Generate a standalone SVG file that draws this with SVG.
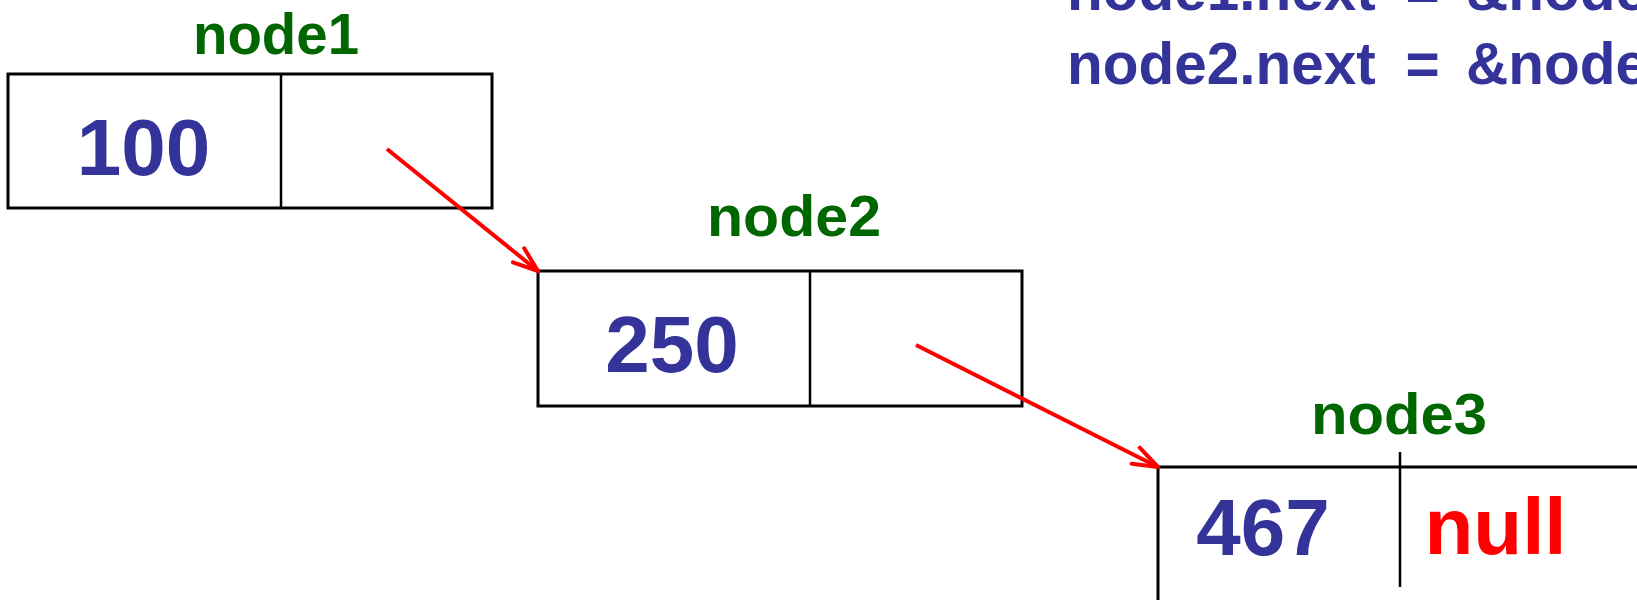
<svg xmlns="http://www.w3.org/2000/svg" width="1637" height="600" viewBox="0 0 1637 600">
<style>
.box{fill:#fff;stroke:#000;stroke-width:3}
.div{stroke:#000;stroke-width:2.5}
.lbl{font-family:"Liberation Sans",Arial,sans-serif;font-weight:bold;font-size:57px;fill:#006600}
.num{font-family:"Liberation Sans",Arial,sans-serif;font-weight:bold;font-size:80px;fill:#333399;text-anchor:middle}
.nul{font-family:"Liberation Sans",Arial,sans-serif;font-weight:bold;font-size:80px;fill:#ff0000;text-anchor:middle}
.code{font-family:"Liberation Sans",Arial,sans-serif;font-weight:bold;font-size:58.5px;fill:#333399}
.arr{stroke:#ff0000;stroke-width:4;fill:none;marker-end:url(#head)}
</style>
<defs>
<marker id="head" markerUnits="userSpaceOnUse" orient="auto" markerWidth="40" markerHeight="30" viewBox="-30 -15 40 30" refX="0" refY="0" overflow="visible">
<path d="M-25,-9 L0,0 L-25,9" fill="none" stroke="#ff0000" stroke-width="4" stroke-linejoin="round" stroke-linecap="round"/>
</marker>
</defs>
<rect width="1637" height="600" fill="#fff"/>
<g id="code">
<text class="code" y="9.5"><tspan x="1067">node1.next </tspan><tspan x="1405.5">= </tspan><tspan x="1466">&amp;node2</tspan></text>
<text class="code" y="83.5"><tspan x="1067">node2.next </tspan><tspan x="1405.5">= </tspan><tspan x="1466">&amp;node3</tspan></text>
</g>
<g id="node1">
<text class="lbl" x="193" y="54" textLength="166" lengthAdjust="spacingAndGlyphs">node1</text>
<rect class="box" x="8" y="74" width="484" height="134"/>
<line class="div" x1="281" y1="74" x2="281" y2="208"/>
<text class="num" x="143.5" y="175">100</text>
</g>
<g id="node2">
<text class="lbl" x="707" y="236" textLength="174" lengthAdjust="spacingAndGlyphs">node2</text>
<rect class="box" x="538" y="271" width="484" height="135"/>
<line class="div" x1="810" y1="271" x2="810" y2="406"/>
<text class="num" x="672" y="372">250</text>
</g>
<g id="node3">
<text class="lbl" x="1311" y="434" textLength="176" lengthAdjust="spacingAndGlyphs">node3</text>
<rect class="box" x="1158" y="467" width="600" height="200"/>
<line class="div" x1="1400" y1="452" x2="1400" y2="587"/>
<text class="num" x="1263" y="555">467</text>
<text class="nul" x="1495.5" y="554">null</text>
</g>
<g id="connectors">
<line class="arr" x1="387" y1="149" x2="538" y2="271"/>
<line class="arr" x1="916" y1="345" x2="1158" y2="467"/>
</g>
</svg>
